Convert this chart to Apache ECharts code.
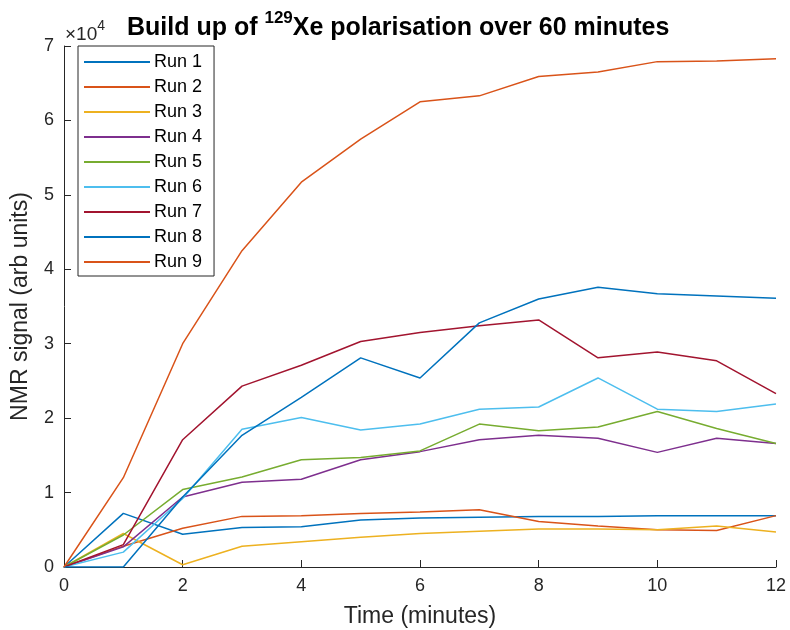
<!DOCTYPE html>
<html>
<head>
<meta charset="utf-8">
<script src="https://cdn.jsdelivr.net/npm/echarts@6/dist/echarts.min.js"></script>
<style>html,body{margin:0;padding:0;background:#fff;}#c{width:790px;height:630px;}</style>
</head>
<body>
<div id="c"></div>
<script>
const timeMin = [0, 1, 2, 3, 4, 5, 6, 7, 8, 9, 10, 11, 12];
const run1 = [0, 7200, 4400, 5300, 5400, 6300, 6600, 6700, 6800, 6800, 6900, 6900, 6900];
const run2 = [0, 2800, 5200, 6800, 6900, 7200, 7400, 7700, 6100, 5500, 5000, 4900, 6900];
const run3 = [0, 4500, 300, 2800, 3400, 4000, 4500, 4800, 5100, 5100, 5000, 5500, 4700];
const run4 = [0, 2700, 9400, 11400, 11800, 14400, 15500, 17100, 17700, 17300, 15400, 17300, 16600];
const run5 = [0, 4300, 10400, 12100, 14400, 14700, 15600, 19200, 18300, 18800, 20900, 18600, 16600];
const run6 = [0, 2000, 9200, 18500, 20100, 18400, 19200, 21200, 21500, 25400, 21200, 20900, 21900];
const run7 = [0, 3000, 17100, 24300, 27100, 30300, 31500, 32400, 33200, 28100, 28900, 27700, 23300];
const run8 = [0, 0, 9400, 17700, 22800, 28100, 25400, 32800, 36000, 37600, 36700, 36400, 36100];
const run9 = [0, 12000, 30000, 42500, 51700, 57500, 62500, 63300, 65900, 66500, 67900, 68000, 68300];
const runNames = ['Run 1', 'Run 2', 'Run 3', 'Run 4', 'Run 5', 'Run 6', 'Run 7', 'Run 8', 'Run 9'];
const runData = [run1, run2, run3, run4, run5, run6, run7, run8, run9];
const colors = ['#0072BD', '#D95319', '#EDB120', '#7E2F8E', '#77AC30', '#4DBEEE', '#A2142F', '#0072BD', '#D95319'];

const axisCol = '#262626';
const font = 'Liberation Sans, Arial, Helvetica, sans-serif';

const chart = echarts.init(document.getElementById('c'), null, {renderer: 'canvas'});
const series = runNames.map((n, i) => ({
  name: n,
  type: 'line',
  data: timeMin.map((t, j) => [t, runData[i][j]]),
  showSymbol: false,
  symbol: 'none',
  lineStyle: {width: 1.5, color: colors[i]},
  itemStyle: {color: colors[i]},
  emphasis: {disabled: true}
}));

chart.setOption({
  animation: false,
  backgroundColor: '#fff',
  title: {
    text: '{a|Build up of }{s|129}{a|Xe polarisation over 60 minutes}',
    left: 127, top: 10,
    padding: 0,
    textStyle: {
      rich: {
        a: {fontFamily: font, fontWeight: 'bold', fontSize: 25, color: '#000', lineHeight: 31, verticalAlign: 'bottom'},
        s: {fontFamily: font, fontWeight: 'bold', fontSize: 17, color: '#000', lineHeight: 31, verticalAlign: 'top', padding: [0, 0, 12, 0]}
      }
    }
  },
  graphic: [{
    type: 'text',
    left: 65, top: 19,
    style: {
      text: '{x|×10}{e|4}',
      rich: {
        x: {fontFamily: font, fontSize: 19, fill: axisCol, lineHeight: 25, verticalAlign: 'bottom'},
        e: {fontFamily: font, fontSize: 14, fill: axisCol, lineHeight: 25, verticalAlign: 'top', padding: [0, 0, 10, 0]}
      }
    }
  }],
  legend: {
    orient: 'vertical',
    left: 78, top: 46,
    itemWidth: 66, itemHeight: 2,
    itemGap: 7,
    icon: 'rect',
    padding: [7, 12, 5, 6],
    backgroundColor: '#fff',
    borderColor: axisCol, borderWidth: 1,
    textStyle: {fontFamily: font, fontSize: 18, color: '#000', padding: [0, 0, 0, -1]},
    data: runNames.map((n, i) => ({name: n, itemStyle: {color: colors[i]}}))
  },
  grid: {left: 64, right: 14, top: 46, bottom: 63, containLabel: false, outerBoundsMode: 'none'},
  xAxis: {
    type: 'value', min: 0, max: 12, interval: 2,
    name: 'Time (minutes)', nameLocation: 'middle', nameGap: 38,
    nameTextStyle: {fontFamily: font, fontSize: 23, color: axisCol},
    axisLine: {show: true, lineStyle: {color: axisCol, width: 1}},
    axisTick: {show: true, inside: true, length: 7, lineStyle: {color: axisCol}},
    axisLabel: {fontFamily: font, fontSize: 18, color: axisCol, margin: 10},
    splitLine: {show: false}
  },
  yAxis: {
    type: 'value', min: 0, max: 70000, interval: 10000,
    name: 'NMR signal (arb units)', nameLocation: 'middle', nameGap: 32,
    nameTextStyle: {fontFamily: font, fontSize: 23, color: axisCol},
    axisLine: {show: true, lineStyle: {color: axisCol, width: 1}},
    axisTick: {show: true, inside: true, length: 7, lineStyle: {color: axisCol}},
    axisLabel: {fontFamily: font, fontSize: 18, color: axisCol, margin: 10, formatter: v => String(v / 10000)},
    splitLine: {show: false}
  },
  series: series
});
</script>
</body>
</html>
